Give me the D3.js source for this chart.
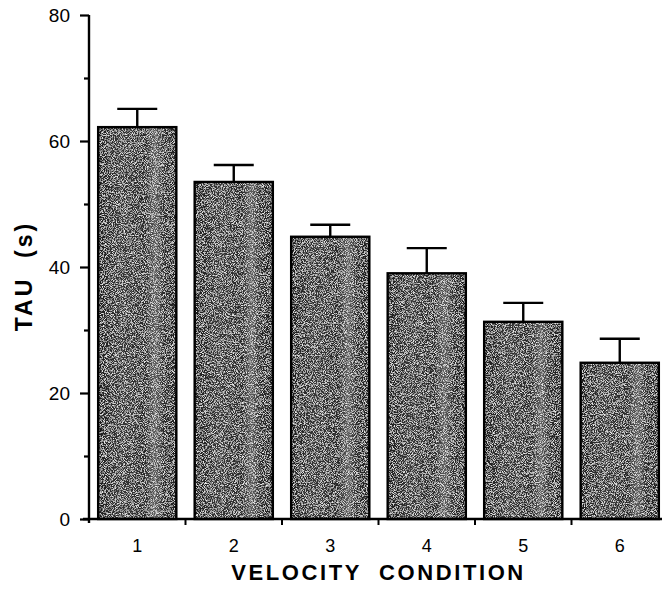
<!DOCTYPE html>
<html lang="en">
<head>
<meta charset="utf-8">
<title>TAU by velocity condition</title>
<script src="https://cdn.jsdelivr.net/npm/d3@7"></script>
<style>
  body { margin: 0; background: #fff; }
  svg { display: block; font-family: "Liberation Sans", Arial, sans-serif; }
</style>
</head>
<body>
<svg id="chart" width="666" height="592"></svg>
<script>
// values
var conditions = ["1", "2", "3", "4", "5", "6"];
var tau = [62.2, 53.5, 44.8, 39.0, 31.3, 24.8];
var tauErr = [2.9, 2.7, 1.9, 4.0, 3.0, 3.8];
var yTicks = [0, 10, 20, 30, 40, 50, 60, 70, 80];

(function() {
  var svg = d3.select("#chart");

  // plot box (window.top is taken, so prefix these)
  var plotLeft = 89, plotRight = 668, plotTop = 15, plotBottom = 519;

  var x = d3.scaleBand()
    .domain(conditions)
    .range([plotLeft, plotRight])
    .paddingInner(0.19)
    .paddingOuter(0.095);

  var y = d3.scaleLinear()
    .domain([0, 80])
    .range([plotBottom, plotTop]);

  // grainy grey fill, like the halftone in the scan
  var defs = svg.append("defs");
  var grad = defs.append("linearGradient").attr("id", "shade");
  grad.append("stop").attr("offset", "0%").attr("stop-color", "#1c1c1c");
  grad.append("stop").attr("offset", "30%").attr("stop-color", "#363636");
  grad.append("stop").attr("offset", "60%").attr("stop-color", "#282828");
  grad.append("stop").attr("offset", "73%").attr("stop-color", "#5e5e5e");
  grad.append("stop").attr("offset", "84%").attr("stop-color", "#2a2a2a");
  grad.append("stop").attr("offset", "100%").attr("stop-color", "#1e1e1e");

  var grain = defs.append("filter").attr("id", "grain")
    .attr("x", 0).attr("y", 0).attr("width", 1).attr("height", 1);
  grain.append("feTurbulence")
    .attr("type", "fractalNoise").attr("baseFrequency", 1.1)
    .attr("numOctaves", 2).attr("seed", 7).attr("result", "noise");
  grain.append("feColorMatrix").attr("in", "noise").attr("type", "matrix")
    .attr("values", "0 0 0 0 0.85  0 0 0 0 0.85  0 0 0 0 0.85  3.2 0 0 0 -1.45")
    .attr("result", "specks");
  grain.append("feComposite").attr("in", "specks").attr("in2", "SourceGraphic")
    .attr("operator", "in").attr("result", "clipped");
  var merge = grain.append("feMerge");
  merge.append("feMergeNode").attr("in", "SourceGraphic");
  merge.append("feMergeNode").attr("in", "clipped");

  // bars
  var bars = svg.append("g");
  bars.selectAll("rect.fill")
    .data(tau)
    .join("rect")
    .attr("class", "fill")
    .attr("x", function(d, i) { return x(conditions[i]); })
    .attr("y", function(d) { return y(d); })
    .attr("width", x.bandwidth())
    .attr("height", function(d) { return y(0) - y(d); })
    .attr("fill", "url(#shade)")
    .attr("filter", "url(#grain)");

  bars.selectAll("rect.edge")
    .data(tau)
    .join("rect")
    .attr("class", "edge")
    .attr("x", function(d, i) { return x(conditions[i]); })
    .attr("y", function(d) { return y(d); })
    .attr("width", x.bandwidth())
    .attr("height", function(d) { return y(0) - y(d); })
    .attr("fill", "none")
    .attr("stroke", "#000")
    .attr("stroke-width", 2.4);

  // error bars (upper only)
  var capHalf = 20;
  var mid = function(i) { return x(conditions[i]) + x.bandwidth() / 2; };
  var errs = svg.append("g").attr("stroke", "#000").attr("stroke-width", 2.4);
  errs.selectAll("line.stem")
    .data(tau)
    .join("line")
    .attr("class", "stem")
    .attr("x1", function(d, i) { return mid(i); })
    .attr("x2", function(d, i) { return mid(i); })
    .attr("y1", function(d) { return y(d); })
    .attr("y2", function(d, i) { return y(d + tauErr[i]); });
  errs.selectAll("line.cap")
    .data(tau)
    .join("line")
    .attr("class", "cap")
    .attr("x1", function(d, i) { return mid(i) - capHalf; })
    .attr("x2", function(d, i) { return mid(i) + capHalf; })
    .attr("y1", function(d, i) { return y(d + tauErr[i]); })
    .attr("y2", function(d, i) { return y(d + tauErr[i]); });

  // y axis: labelled every 20, small ticks in between
  var yAxis = svg.append("g")
    .attr("transform", "translate(" + plotLeft + ",0)")
    .call(d3.axisLeft(y)
      .tickValues(yTicks)
      .tickSizeOuter(0)
      .tickSizeInner(9)
      .tickPadding(10)
      .tickFormat(function(d) { return d % 20 === 0 ? d : ""; }));
  yAxis.select(".domain").attr("stroke-width", 2.4).attr("d", "M0," + (y(0) + 4) + "V" + y(80));
  yAxis.selectAll(".tick line")
    .attr("stroke-width", 2.2)
    .attr("x2", function(d) { return d % 20 === 0 ? -9 : -5; });
  yAxis.selectAll(".tick text")
    .attr("font-size", 19)
    .attr("fill", "#000")
    .attr("font-family", "Liberation Sans, Arial, sans-serif");

  // x axis: labels under bars, ticks between bars
  var xAxis = svg.append("g")
    .attr("transform", "translate(0," + plotBottom + ")")
    .call(d3.axisBottom(x).tickSize(0).tickPadding(20));
  xAxis.select(".domain").attr("stroke-width", 2.4)
    .attr("d", "M" + (plotLeft - 6) + ",0H" + (plotRight - 6));
  xAxis.selectAll(".tick text")
    .attr("font-size", 18)
    .attr("fill", "#000")
    .attr("font-family", "Liberation Sans, Arial, sans-serif");

  xAxis.selectAll("line.between")
    .data(conditions.slice(0, -1))
    .join("line")
    .attr("class", "between")
    .attr("x1", function(d) { return x(d) + x.bandwidth() + x.step() * x.paddingInner() / 2; })
    .attr("x2", function(d) { return x(d) + x.bandwidth() + x.step() * x.paddingInner() / 2; })
    .attr("y1", 0)
    .attr("y2", 6)
    .attr("stroke", "#000")
    .attr("stroke-width", 2);

  // axis titles
  svg.append("text")
    .attr("x", (plotLeft + plotRight) / 2)
    .attr("y", 580)
    .attr("text-anchor", "middle")
    .attr("font-size", 22)
    .attr("font-weight", "bold")
    .attr("letter-spacing", 2.6)
    .attr("xml:space", "preserve")
    .text("VELOCITY  CONDITION");

  svg.append("text")
    .attr("transform", "translate(32,276) rotate(-90)")
    .attr("text-anchor", "middle")
    .attr("font-size", 23)
    .attr("font-weight", "bold")
    .attr("letter-spacing", 3)
    .attr("xml:space", "preserve")
    .text("TAU  (s)");
})();
</script>
</body>
</html>
